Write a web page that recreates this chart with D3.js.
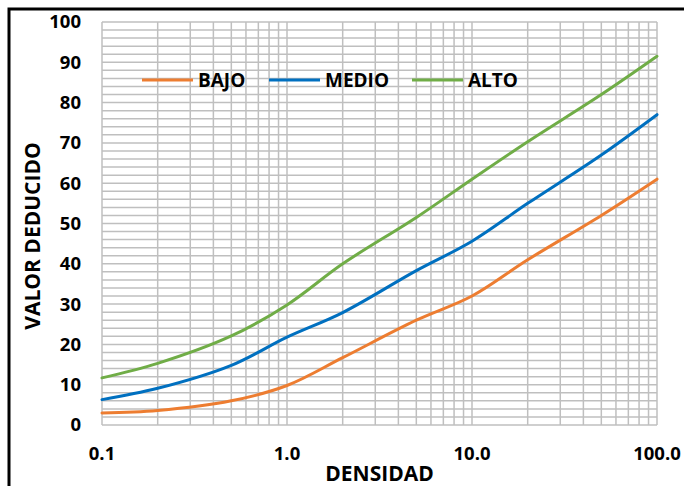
<!DOCTYPE html>
<html><head><meta charset="utf-8">
<script src="https://cdn.jsdelivr.net/npm/d3@7"></script>
<style>body{margin:0;background:#fff}svg{display:block}text{font-family:"Open Sans",sans-serif;font-weight:bold;fill:#000}</style>
</head><body>
<svg id="c" width="684" height="486"></svg>
<script>
const seriesNames = ["BAJO", "MEDIO", "ALTO"];
const seriesColors = ["#ED7D31", "#0070C0", "#70AD47"];
const densidad = [0.1, 0.2, 0.5, 1, 2, 5, 10, 20, 50, 100];
const bajo  = [3.0, 3.6, 6.0, 9.8, 16.7, 26.0, 32.0, 41.0, 52.0, 61.0];
const medio = [6.3, 9.1, 14.8, 21.8, 27.9, 38.3, 45.6, 55.0, 67.0, 77.0];
const alto  = [11.7, 15.3, 22.1, 29.8, 40.0, 51.5, 61.0, 70.3, 82.0, 91.5];
const seriesValues = [bajo, medio, alto];
const xTickValues = [0.1, 1, 10, 100];
const xTickLabels = ["0.1", "1.0", "10.0", "100.0"];
const yTickValues = [0, 10, 20, 30, 40, 50, 60, 70, 80, 90, 100];

const svg = d3.select("#c");
const L = 102, R = 657, T = 22, B = 425;
const x = d3.scaleLog().domain([0.1, 100]).range([L, R]);
const y = d3.scaleLinear().domain([0, 100]).range([B, T]);

// outer frame
svg.append("rect").attr("x", 9).attr("y", 9).attr("width", 720).attr("height", 520)
  .attr("fill", "none").attr("stroke", "#000").attr("stroke-width", 3);

// grid
const g = svg.append("g").attr("stroke", "#BFBFBF").attr("stroke-width", 1.5);
const yGrid = d3.range(0, 101, 2);
g.selectAll(".hy").data(yGrid).join("line")
  .attr("x1", L).attr("x2", R).attr("y1", d => y(d)).attr("y2", d => y(d));
const xGrid = [];
[0.1, 1, 10].forEach(dec => { for (let k = 1; k <= 9; k++) xGrid.push(dec * k); });
xGrid.push(100);
g.selectAll(".vx").data(xGrid).join("line")
  .attr("y1", T).attr("y2", B).attr("x1", d => x(d)).attr("x2", d => x(d));

// y tick labels
svg.append("g").selectAll("text").data(yTickValues).join("text")
  .attr("x", 81).attr("y", d => y(d)).attr("dy", "0.35em")
  .attr("text-anchor", "end").style("font-size", "18.5px").text(d => d);

// x tick labels
svg.append("g").selectAll("text").data(xTickValues).join("text")
  .attr("x", d => x(d)).attr("y", 460)
  .attr("text-anchor", "middle").style("font-size", "18.5px")
  .text((d, i) => xTickLabels[i]);

// axis titles
svg.append("text").attr("x", (L + R) / 2).attr("y", 481).attr("text-anchor", "middle")
  .style("font-size", "21px").text("DENSIDAD");
svg.append("text").attr("transform", "translate(40,236) rotate(-90)").attr("text-anchor", "middle")
  .style("font-size", "21px").text("VALOR DEDUCIDO");

// lines
const line = d3.line().x(d => x(d[0])).y(d => y(d[1])).curve(d3.curveCatmullRom.alpha(0.5));
seriesValues.forEach((vals, i) => {
  svg.append("path").datum(densidad.map((d, j) => [d, vals[j]]))
    .attr("fill", "none").attr("stroke", seriesColors[i]).attr("stroke-width", 3)
    .attr("stroke-linecap", "round").attr("d", line);
});

// legend
const legX = [142, 269, 412];
seriesNames.forEach((n, i) => {
  svg.append("line").attr("x1", legX[i]).attr("x2", legX[i] + 51).attr("y1", 80).attr("y2", 80)
    .attr("stroke", seriesColors[i]).attr("stroke-width", 3);
  svg.append("text").attr("x", legX[i] + 56).attr("y", 80).attr("dy", "0.35em")
    .style("font-size", "19px").text(n);
});
</script>
</body></html>
